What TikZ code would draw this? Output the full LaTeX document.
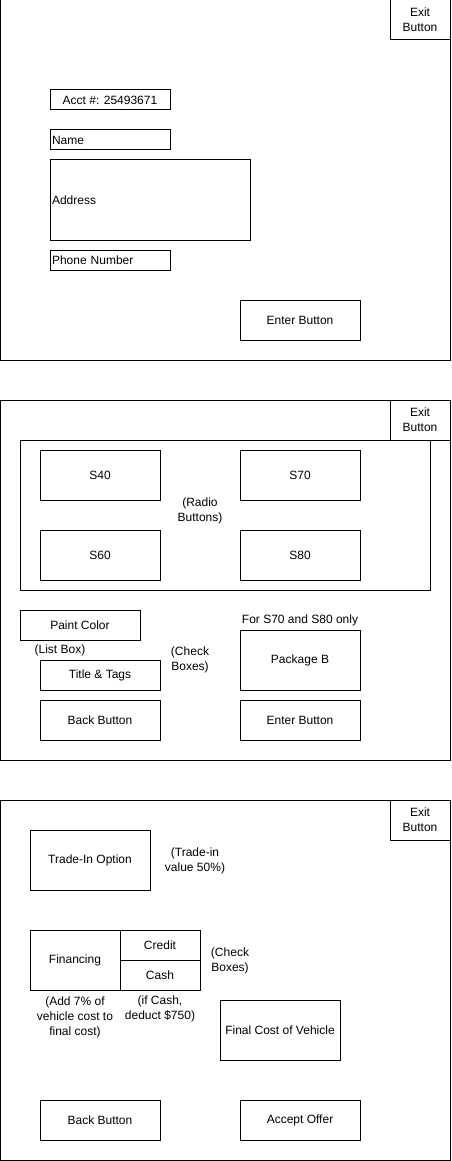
\documentclass[tikz,border=0pt]{standalone}
\usepackage{fontspec}
\setmainfont{Liberation Sans}
\begin{document}
\begin{tikzpicture}[x=1pt,y=-1pt,
  box/.style={draw, line width=1pt, inner sep=0pt, align=center, font=\fontsize{12}{15}\selectfont},
  lbox/.style={box, align=left, inner xsep=2pt},
  txt/.style={inner sep=0pt, align=center, font=\fontsize{12}{15}\selectfont}]
\useasboundingbox (0,0) rectangle (451,1161);
% ---------- Screen 1 ----------
\node[box, minimum width=450, minimum height=360] (f1) at (225,180) {};
\node[box, minimum width=60, minimum height=40] (exit1) at (420,20) {Exit\\Button};
\node[box, minimum width=120, minimum height=20] (acct) at (110,100) {Acct \#: 25493671};
\node[lbox, text width=116pt, minimum height=20] (name) at (110,140) {Name};
\node[lbox, text width=196pt, minimum height=80] (addr) at (150,200) {Address};
\node[lbox, text width=116pt, minimum height=20] (phone) at (110,260) {Phone Number};
\node[box, minimum width=120, minimum height=40] (enter1) at (300,320) {Enter Button};
% ---------- Screen 2 ----------
\node[box, minimum width=450, minimum height=360] (f2) at (225,580) {};
\node[box, minimum width=410, minimum height=150] (radio) at (225,515) {};
\node[box, minimum width=60, minimum height=40] (exit2) at (420,420) {Exit\\Button};
\node[box, minimum width=120, minimum height=50] (s40) at (100,475) {S40};
\node[box, minimum width=120, minimum height=50] (s70) at (300,475) {S70};
\node[box, minimum width=120, minimum height=50] (s60) at (100,555) {S60};
\node[box, minimum width=120, minimum height=50] (s80) at (300,555) {S80};
\node[txt] (radiolbl) at (200,511) {(Radio\\Buttons)};
\node[box, minimum width=120, minimum height=30] (paint) at (80,625) {Paint Color};
\node[txt] (listbox) at (60,650) {(List Box)};
\node[box, minimum width=120, minimum height=30] (title) at (100,675) {Title \& Tags};
\node[txt] (checklbl1) at (190,660) {(Check\\Boxes)};
\node[txt] (s7080) at (300,620) {For S70 and S80 only};
\node[box, minimum width=120, minimum height=60] (pkgb) at (300,660) {Package B};
\node[box, minimum width=120, minimum height=40] (back2) at (100,720) {Back Button};
\node[box, minimum width=120, minimum height=40] (enter2) at (300,720) {Enter Button};
% ---------- Screen 3 ----------
\node[box, minimum width=450, minimum height=360] (f3) at (225,980) {};
\node[box, minimum width=60, minimum height=40] (exit3) at (420,820) {Exit\\Button};
\node[box, minimum width=120, minimum height=60] (trade) at (90,860) {Trade-In Option};
\node[txt] (tradelbl) at (195,861) {(Trade-in\\value 50\%)};
\node[box, minimum width=90, minimum height=60] (fin) at (75,960) {Financing};
\node[box, minimum width=80, minimum height=30] (credit) at (160,945) {Credit};
\node[box, minimum width=80, minimum height=30] (cash) at (160,975) {Cash};
\node[txt] (checklbl2) at (230,961) {(Check\\Boxes)};
\node[txt] (finlbl) at (75,1017) {(Add 7\% of\\vehicle cost to\\final cost)};
\node[txt] (cashlbl) at (160,1009) {(if Cash,\\deduct \$750)};
\node[box, minimum width=120, minimum height=60] (final) at (280,1030) {Final Cost of Vehicle};
\node[box, minimum width=120, minimum height=40] (back3) at (100,1120) {Back Button};
\node[box, minimum width=120, minimum height=40] (accept) at (300,1120) {Accept Offer};
\end{tikzpicture}
\end{document}
